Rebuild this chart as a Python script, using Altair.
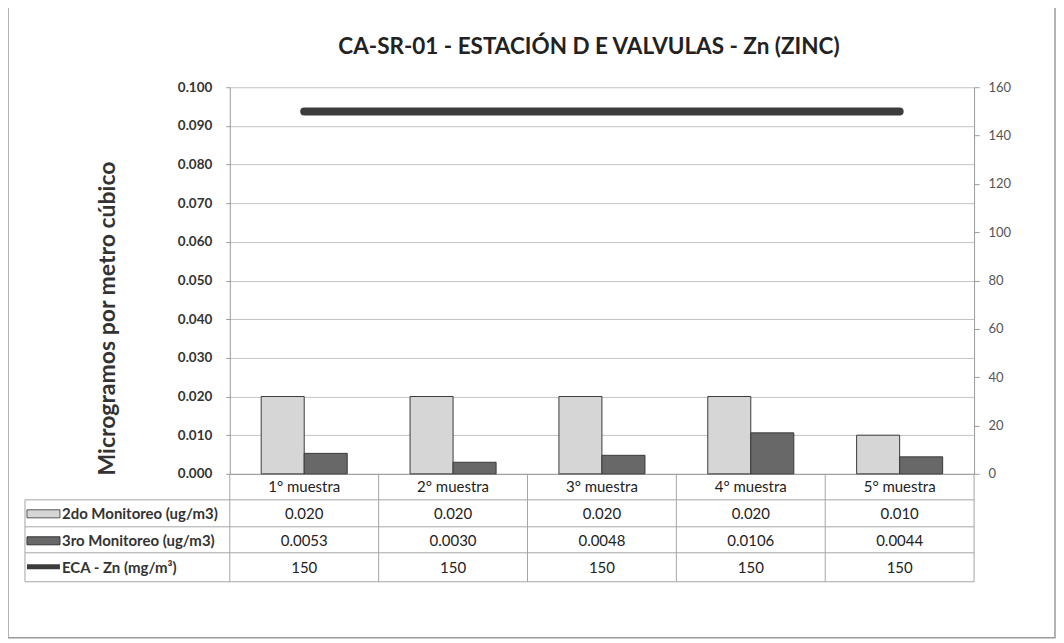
import altair as alt
import pandas as pd

# ---- data ----
categories = ["1° muestra", "2° muestra", "3° muestra", "4° muestra", "5° muestra"]
series_names = ["2do Monitoreo (ug/m3)", "3ro Monitoreo (ug/m3)", "ECA - Zn (mg/m³)"]
serie_2do = [0.020, 0.020, 0.020, 0.020, 0.010]
serie_3ro = [0.0053, 0.0030, 0.0048, 0.0106, 0.0044]
eca_zn = [150, 150, 150, 150, 150]
left_ticks = [0.000, 0.010, 0.020, 0.030, 0.040, 0.050, 0.060, 0.070, 0.080, 0.090, 0.100]
right_ticks = [0, 20, 40, 60, 80, 100, 120, 140, 160]

title_text = "CA-SR-01 - ESTACIÓN D E VALVULAS - Zn (ZINC)"
y_title = "Microgramos por metro cúbico"

FONT = "Lato"
GRID = "#c4c4c4"
TABLE_LINE = "#a6a6a6"

bar_df = pd.DataFrame({
    "cat": categories * 2,
    "serie": [series_names[0]] * 5 + [series_names[1]] * 5,
    "value": serie_2do + serie_3ro,
})
wide_df = pd.DataFrame({"cat": categories, "v2": serie_2do, "v3": serie_3ro, "eca": eca_zn})
one = alt.Data(values=[{"k": 1}])

x_axis = alt.Axis(title=None, ticks=False, labelAngle=0, labelPadding=6, labelFont=FONT,
                  labelFontSize=15, labelColor="#222", domain=True, domainColor="#9a9a9a",
                  grid=False)
x_scale = alt.Scale(paddingInner=0, paddingOuter=0)


def xenc(**kw):
    return alt.X("cat:N", sort=categories, scale=x_scale, axis=x_axis, **kw)


W, H = 745, 387

border = alt.Chart(one).mark_rect(fill="white", fillOpacity=0, stroke="#9a9a9a", strokeWidth=1.5).encode(
    x=alt.value(-222), x2=alt.value(826), y=alt.value(-81), y2=alt.value(551)
)

title = alt.Chart(alt.Data(values=[{"t": title_text}])).mark_text(
    font=FONT, fontSize=22.5, fontWeight="bold", color="#222", baseline="middle", align="center"
).encode(x=alt.value(W / 2 - 13), y=alt.value(-40), text="t:N")

bars = alt.Chart(bar_df).mark_bar(stroke="#3a3a3a", strokeWidth=1).encode(
    x=xenc(),
    xOffset=alt.XOffset("serie:N", sort=series_names[:2],
                        scale=alt.Scale(paddingInner=0, paddingOuter=0.73)),
    y=alt.Y("value:Q", scale=alt.Scale(domain=[0, 0.1]),
            axis=alt.Axis(title=y_title, values=left_ticks, format=".3f", orient="left",
                          labelFont=FONT, labelFontSize=13.5, labelFontWeight="bold",
                          labelColor="#333", labelPadding=14, ticks=True, tickSize=4,
                          tickColor="#9a9a9a", domain=True, domainColor="#9a9a9a",
                          grid=True, gridColor=GRID, gridWidth=1,
                          titleFont=FONT, titleFontSize=23, titleFontWeight="bold",
                          titleColor="#333", titleX=-122, titleY=231, titleAngle=270,
                          titleBaseline="middle", titleAlign="center")),
    color=alt.Color("serie:N", scale=alt.Scale(domain=series_names[:2],
                                               range=["#d6d6d6", "#686868"]), legend=None),
)

line = alt.Chart(wide_df).mark_line(strokeWidth=8, strokeCap="round", color="#3c3c3c").encode(
    x=xenc(),
    y=alt.Y("eca:Q", scale=alt.Scale(domain=[0, 160]),
            axis=alt.Axis(title=None, orient="right", values=right_ticks, labelFont=FONT,
                          labelFontSize=13, labelColor="#555", labelPadding=9,
                          ticks=True, tickSize=5, tickColor="#9a9a9a",
                          domain=True, domainColor="#9a9a9a", grid=False)),
)

layers = [border, title, bars]

# table horizontal lines
for yv in [413, 440, 466, 495]:
    layers.append(alt.Chart(one).mark_rule(color=TABLE_LINE, strokeWidth=1).encode(
        x=alt.value(-205), x2=alt.value(W), y=alt.value(yv)))
# table vertical lines
layers.append(alt.Chart(wide_df).mark_rule(color=TABLE_LINE, strokeWidth=1).encode(
    x=xenc(bandPosition=0), y=alt.value(H), y2=alt.value(495)))
layers.append(alt.Chart(one).mark_rule(color=TABLE_LINE, strokeWidth=1).encode(
    x=alt.value(W), y=alt.value(H), y2=alt.value(495)))
layers.append(alt.Chart(one).mark_rule(color=TABLE_LINE, strokeWidth=1).encode(
    x=alt.value(-205), y=alt.value(413), y2=alt.value(495)))

# table values
for field, fmt, yv in [("v2", ".3f", 427), ("v3", ".4f", 454), ("eca", "d", 481)]:
    layers.append(alt.Chart(wide_df).mark_text(font=FONT, fontSize=15, color="#222",
                                               baseline="middle").encode(
        x=xenc(), y=alt.value(yv), text=alt.Text(f"{field}:Q", format=fmt)))

# row labels
for name, yv in zip(series_names, [427, 454, 481]):
    layers.append(alt.Chart(alt.Data(values=[{"name": name}])).mark_text(
        font=FONT, fontSize=15, fontWeight="bold", color="#333", align="left",
        baseline="middle").encode(x=alt.value(-168), y=alt.value(yv), text="name:N"))

# legend swatches
layers.append(alt.Chart(one).mark_rect(fill="#d6d6d6", stroke="#555", strokeWidth=1).encode(
    x=alt.value(-203), x2=alt.value(-170), y=alt.value(423), y2=alt.value(431)))
layers.append(alt.Chart(one).mark_rect(fill="#686868", stroke="#333", strokeWidth=1).encode(
    x=alt.value(-203), x2=alt.value(-170), y=alt.value(450), y2=alt.value(458)))
layers.append(alt.Chart(one).mark_rule(color="#3c3c3c", strokeWidth=5).encode(
    x=alt.value(-203), x2=alt.value(-170), y=alt.value(480)))

layers.append(line)

chart = alt.layer(*layers).resolve_scale(y="independent").properties(
    width=W, height=H,
    autosize=alt.AutoSizeParams(type="none"),
    padding={"left": 222, "top": 79, "right": 82, "bottom": 166},
    background="white",
).configure_view(stroke=None)

chart.save("out.html", embed_options={"renderer": "svg", "actions": False})
